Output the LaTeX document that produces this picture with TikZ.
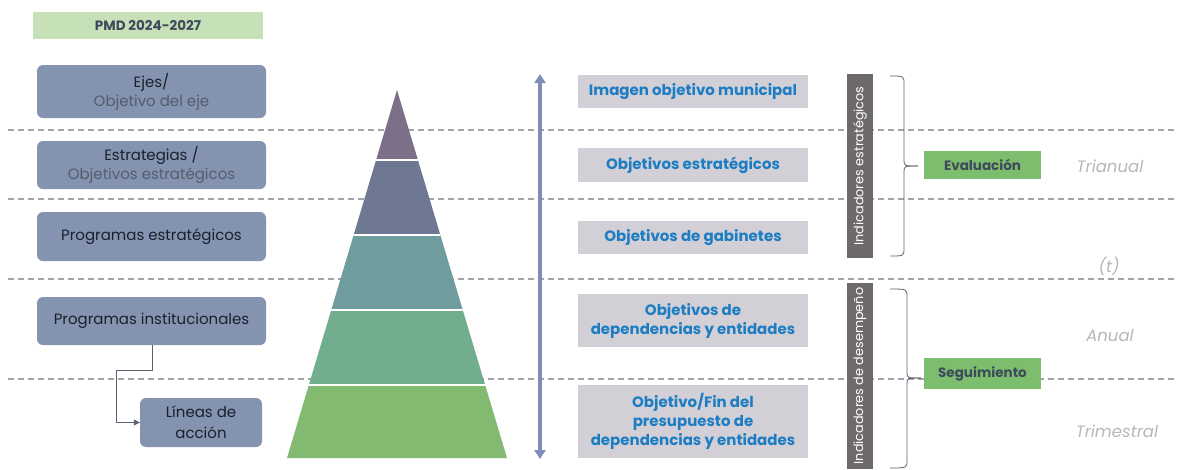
\documentclass[tikz,border=0pt]{standalone}
\usepackage{fontspec}
\setmainfont{Poppins}
\usetikzlibrary{arrows.meta}
\definecolor{slatebox}{HTML}{8494B0}
\definecolor{slatetxt}{HTML}{1A202C}
\definecolor{slatesub}{HTML}{525C6C}
\definecolor{pmdgreen}{HTML}{C6E0B8}
\definecolor{pmdtxt}{HTML}{3E4A5C}
\definecolor{dashgray}{HTML}{A3A3AB}
\definecolor{rbox}{HTML}{D2CFD6}
\definecolor{rtxt}{HTML}{1C7DC2}
\definecolor{barg}{HTML}{6E6A69}
\definecolor{evgreen}{HTML}{7CBE6E}
\definecolor{timegray}{HTML}{B6B6BE}
\definecolor{arrowblue}{HTML}{7F8DB8}
\definecolor{braceg}{HTML}{5C6270}
\definecolor{tA}{HTML}{7B7088}
\definecolor{tB}{HTML}{6E7892}
\definecolor{tC}{HTML}{6F9C9C}
\definecolor{tD}{HTML}{70AE8D}
\definecolor{tE}{HTML}{82BA72}
\tikzset{
  leftbox/.style={fill=slatebox, rounded corners=6pt, inner sep=0pt, align=center, font=\fontsize{15}{19}\selectfont, text=slatetxt},
  rightbox/.style={fill=rbox, inner sep=0pt, align=center, font=\bfseries\fontsize{15}{19}\selectfont, text=rtxt},
  greenbox/.style={fill=evgreen, inner sep=0pt, align=center, font=\bfseries\fontsize{13.5}{16}\selectfont, text=pmdtxt},
  timelbl/.style={font=\itshape\fontsize{16.5}{20}\selectfont, text=timegray},
  dashline/.style={dashgray, line width=1.2pt, dash pattern=on 6pt off 4pt},
  bar/.style={fill=barg, inner sep=0pt},
  bartxt/.style={rotate=90, text=white, font=\fontsize{12.8}{14}\selectfont},
  bracepath/.style={braceg, line width=0.8pt},
}
\begin{document}
\begin{tikzpicture}[x=1pt,y=-1pt]
\useasboundingbox (0,0) rectangle (1177,469);
% dashed lines
\foreach \yy in {130,199,279,379} \draw[dashline] (8,\yy) -- (1177,\yy);
% PMD
\node[fill=pmdgreen, minimum width=230pt, minimum height=27pt, inner sep=0pt, font=\bfseries\fontsize{13.5}{16}\selectfont, text=pmdtxt] (pmd) at (148,25.5) {PMD 2024-2027};
% left boxes
\node[leftbox, minimum width=229pt, minimum height=53pt] (ejes) at (151.5,91.5) {Ejes/\\{\color{slatesub}Objetivo del eje}};
\node[leftbox, minimum width=229pt, minimum height=48pt] (estr) at (151.5,165) {Estrategias /\\{\color{slatesub}Objetivos estratégicos}};
\node[leftbox, minimum width=229pt, minimum height=49pt] (pest) at (151.5,236.5) {Programas estratégicos};
\node[leftbox, minimum width=229pt, minimum height=48pt] (pinst) at (151.5,321) {Programas institucionales};
\node[leftbox, minimum width=122pt, minimum height=49pt] (lineas) at (201,422.5) {Líneas de\\[2pt]acción};
\coordinate (c1) at (152,370);
\coordinate (c2) at (116,370);
\draw[braceg, line width=0.8pt, -{Triangle[length=6pt,width=6pt]}] (pinst.south -| c1) -- (c1) -- (c2) |- (lineas.west);
% pyramid
\begin{scope}
\clip (397,90) -- (507,458) -- (287,458) -- cycle;
\fill[tA] (280,85) rectangle (515,160);
\fill[tB] (280,160) rectangle (515,235);
\fill[tC] (280,235) rectangle (515,310);
\fill[tD] (280,310) rectangle (515,385);
\fill[tE] (280,385) rectangle (515,460);
\foreach \yy in {160,235,310,385} \draw[white, line width=2.2pt] (280,\yy) -- (515,\yy);
\end{scope}
\coordinate (pyrtop) at (397,90);
% vertical arrow
\coordinate (atop) at (540,74);
\coordinate (abot) at (540,459);
\draw[arrowblue, line width=3.6pt, {Triangle[length=9pt,width=11pt]}-{Triangle[length=9pt,width=11pt]}] (atop) -- (abot);
% right boxes
\node[rightbox, minimum width=230pt, minimum height=33pt] (r1) at (693,91.5) {Imagen objetivo municipal};
\node[rightbox, minimum width=230pt, minimum height=34pt] (r2) at (693,165) {Objetivos estratégicos};
\node[rightbox, minimum width=230pt, minimum height=33pt] (r3) at (693,237.5) {Objetivos de gabinetes};
\node[rightbox, minimum width=230pt, minimum height=53pt] (r4) at (693,320.5) {Objetivos de\\dependencias y entidades};
\node[rightbox, minimum width=230pt, minimum height=73pt] (r5) at (693,421.5) {Objetivo/Fin del\\presupuesto de\\dependencias y entidades};
% bars
\node[bar, minimum width=26pt, minimum height=184pt] (bar1) at (860,166) {};
\node[bartxt] at (bar1.center) {Indicadores estratégicos};
\node[bar, minimum width=26pt, minimum height=186pt] (bar2) at (860,376) {};
\node[bartxt] at (bar2.center) {Indicadores de desempeño};
% green boxes
\node[greenbox, minimum width=117pt, minimum height=28pt] (eval) at (982.5,165) {Evaluación};
\node[greenbox, minimum width=117pt, minimum height=31pt] (seg) at (982.5,373.5) {Seguimiento};
% braces
\coordinate (b1tip) at (918,166);
\draw[bracepath] (890,76) .. controls (904,76) .. (904,84) -- (904,160) .. controls (904,166) .. (b1tip);
\draw[bracepath] (890,256) .. controls (904,256) .. (904,248) -- (904,172) .. controls (904,166) .. (b1tip);
\coordinate (b2tip) at (921,378);
\draw[bracepath] (890,289) .. controls (907,289) .. (907,297) -- (907,372) .. controls (907,378) .. (b2tip);
\draw[bracepath] (890,468) .. controls (907,468) .. (907,460) -- (907,384) .. controls (907,378) .. (b2tip);
% time labels
\node[timelbl] (tri) at (1110,166) {Trianual};
\node[timelbl] (tt) at (1109,266) {(t)};
\node[timelbl] (anual) at (1110,335) {Anual};
\node[timelbl] (trim) at (1117,431) {Trimestral};
\end{tikzpicture}
\end{document}
